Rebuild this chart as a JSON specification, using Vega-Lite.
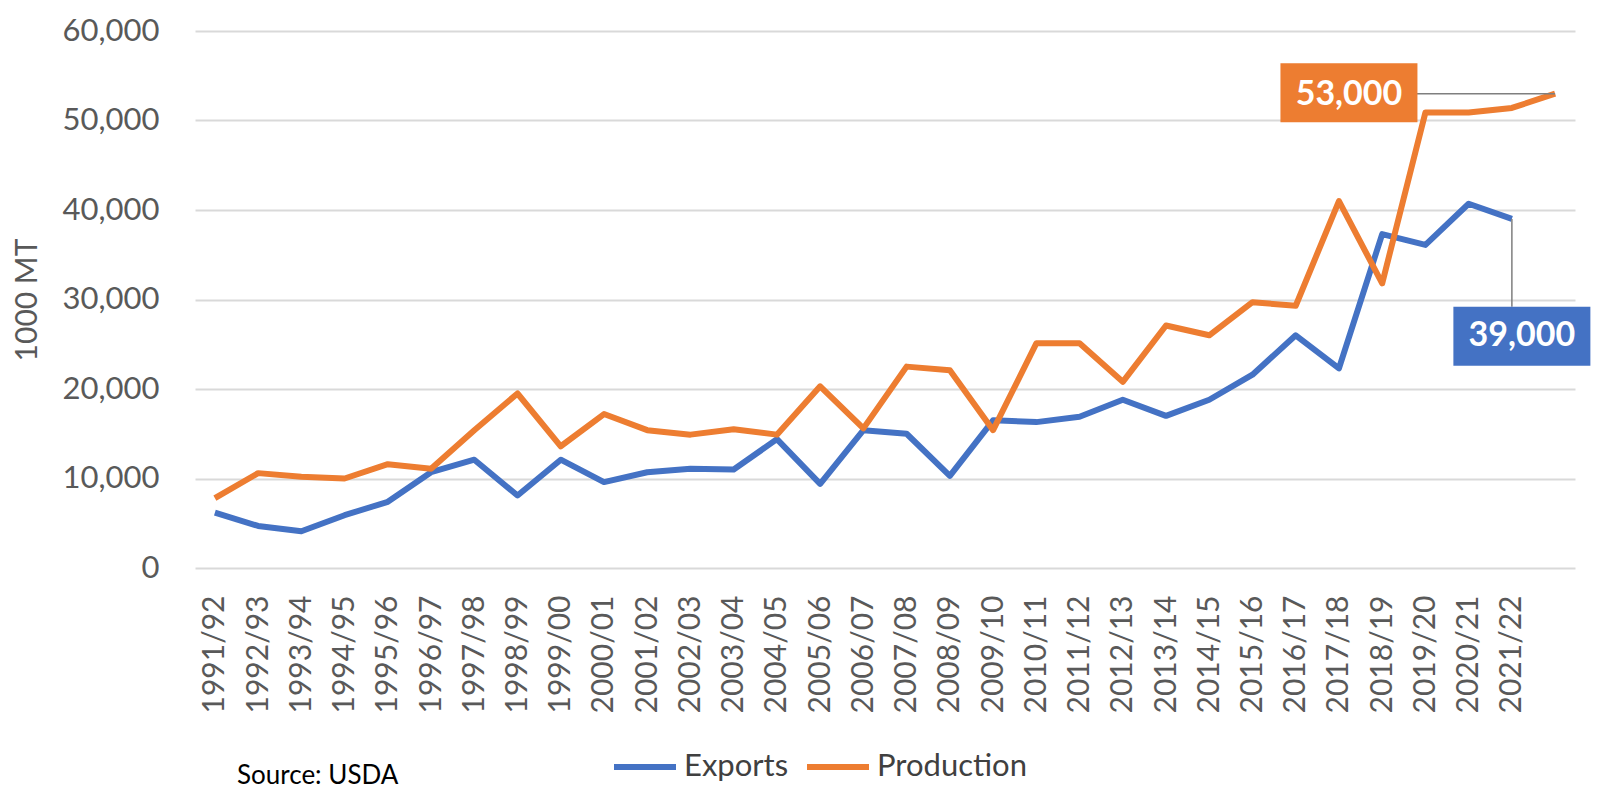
{
  "$schema": "https://vega.github.io/schema/vega-lite/v6.json",
  "width": 1380,
  "height": 537,
  "autosize": {"type": "none"},
  "padding": {"left": 195, "top": 31, "right": 23, "bottom": 225},
  "background": "white",
  "config": {"font": "Lato", "view": {"stroke": null}},
  "title": {"text": "Source: USDA", "orient": "bottom", "anchor": "start", "frame": "group", "dx": 42, "offset": -19, "fontSize": 26, "fontWeight": "normal", "color": "#000000"},
  "datasets": {
    "main": [
      {"season": "1991/92", "series": "Exports", "value": 6200},
      {"season": "1992/93", "series": "Exports", "value": 4700},
      {"season": "1993/94", "series": "Exports", "value": 4100},
      {"season": "1994/95", "series": "Exports", "value": 5900},
      {"season": "1995/96", "series": "Exports", "value": 7400},
      {"season": "1996/97", "series": "Exports", "value": 10700},
      {"season": "1997/98", "series": "Exports", "value": 12100},
      {"season": "1998/99", "series": "Exports", "value": 8100},
      {"season": "1999/00", "series": "Exports", "value": 12100},
      {"season": "2000/01", "series": "Exports", "value": 9600},
      {"season": "2001/02", "series": "Exports", "value": 10700},
      {"season": "2002/03", "series": "Exports", "value": 11100},
      {"season": "2003/04", "series": "Exports", "value": 11000},
      {"season": "2004/05", "series": "Exports", "value": 14400},
      {"season": "2005/06", "series": "Exports", "value": 9400},
      {"season": "2006/07", "series": "Exports", "value": 15400},
      {"season": "2007/08", "series": "Exports", "value": 15000},
      {"season": "2008/09", "series": "Exports", "value": 10300},
      {"season": "2009/10", "series": "Exports", "value": 16500},
      {"season": "2010/11", "series": "Exports", "value": 16300},
      {"season": "2011/12", "series": "Exports", "value": 16900},
      {"season": "2012/13", "series": "Exports", "value": 18800},
      {"season": "2013/14", "series": "Exports", "value": 17000},
      {"season": "2014/15", "series": "Exports", "value": 18800},
      {"season": "2015/16", "series": "Exports", "value": 21600},
      {"season": "2016/17", "series": "Exports", "value": 26000},
      {"season": "2017/18", "series": "Exports", "value": 22300},
      {"season": "2018/19", "series": "Exports", "value": 37300},
      {"season": "2019/20", "series": "Exports", "value": 36100},
      {"season": "2020/21", "series": "Exports", "value": 40700},
      {"season": "2021/22", "series": "Exports", "value": 39000},
      {"season": "1991/92", "series": "Production", "value": 7800},
      {"season": "1992/93", "series": "Production", "value": 10600},
      {"season": "1993/94", "series": "Production", "value": 10200},
      {"season": "1994/95", "series": "Production", "value": 10000},
      {"season": "1995/96", "series": "Production", "value": 11600},
      {"season": "1996/97", "series": "Production", "value": 11100},
      {"season": "1997/98", "series": "Production", "value": 15400},
      {"season": "1998/99", "series": "Production", "value": 19500},
      {"season": "1999/00", "series": "Production", "value": 13600},
      {"season": "2000/01", "series": "Production", "value": 17200},
      {"season": "2001/02", "series": "Production", "value": 15400},
      {"season": "2002/03", "series": "Production", "value": 14900},
      {"season": "2003/04", "series": "Production", "value": 15500},
      {"season": "2004/05", "series": "Production", "value": 14900},
      {"season": "2005/06", "series": "Production", "value": 20300},
      {"season": "2006/07", "series": "Production", "value": 15600},
      {"season": "2007/08", "series": "Production", "value": 22500},
      {"season": "2008/09", "series": "Production", "value": 22100},
      {"season": "2009/10", "series": "Production", "value": 15400},
      {"season": "2010/11", "series": "Production", "value": 25100},
      {"season": "2011/12", "series": "Production", "value": 25100},
      {"season": "2012/13", "series": "Production", "value": 20800},
      {"season": "2013/14", "series": "Production", "value": 27100},
      {"season": "2014/15", "series": "Production", "value": 26000},
      {"season": "2015/16", "series": "Production", "value": 29700},
      {"season": "2016/17", "series": "Production", "value": 29300},
      {"season": "2017/18", "series": "Production", "value": 41000},
      {"season": "2018/19", "series": "Production", "value": 31800},
      {"season": "2019/20", "series": "Production", "value": 50900},
      {"season": "2020/21", "series": "Production", "value": 50900},
      {"season": "2021/22", "series": "Production", "value": 51400},
      {"season": "2022/23", "series": "Production", "value": 53000}
    ],
    "leaders": [
      {"season": "2018/19", "season2": "2022/23", "series": "Production", "from": 53000, "to": 53000},
      {"season": "2021/22", "season2": "2021/22", "series": "Exports", "from": 39000, "to": 29200}
    ],
    "notes": [
      {"season": "2017/18", "series": "Production", "lo": 49800, "hi": 56400, "mid": 52900, "label": "53,000"},
      {"season": "2021/22", "series": "Exports", "lo": 22600, "hi": 29200, "mid": 25900, "label": "39,000"}
    ]
  },
  "layer": [
    {
      "data": {"name": "main"},
      "mark": {"type": "line", "strokeWidth": 6, "strokeJoin": "round"},
      "encoding": {
        "x": {
          "field": "season", "type": "ordinal",
          "scale": {"type": "point", "padding": 0.46, "domain": ["1991/92","1992/93","1993/94","1994/95","1995/96","1996/97","1997/98","1998/99","1999/00","2000/01","2001/02","2002/03","2003/04","2004/05","2005/06","2006/07","2007/08","2008/09","2009/10","2010/11","2011/12","2012/13","2013/14","2014/15","2015/16","2016/17","2017/18","2018/19","2019/20","2020/21","2021/22","2022/23"]},
          "axis": {
            "title": null, "labelAngle": -90, "labelAlign": "right", "labelBaseline": "middle",
            "labelPadding": 27, "ticks": false, "domain": false, "grid": false,
            "labelFontSize": 30, "labelColor": "#595959", "labelOverlap": false,
            "values": ["1991/92","1992/93","1993/94","1994/95","1995/96","1996/97","1997/98","1998/99","1999/00","2000/01","2001/02","2002/03","2003/04","2004/05","2005/06","2006/07","2007/08","2008/09","2009/10","2010/11","2011/12","2012/13","2013/14","2014/15","2015/16","2016/17","2017/18","2018/19","2019/20","2020/21","2021/22"]
          }
        },
        "y": {
          "field": "value", "type": "quantitative",
          "scale": {"domain": [0, 60000], "nice": false},
          "axis": {
            "values": [0, 10000, 20000, 30000, 40000, 50000, 60000], "format": ",d",
            "labelFontSize": 31, "labelColor": "#595959", "labelPadding": 36,
            "ticks": false, "domain": false, "grid": true, "gridColor": "#d9d9d9", "gridWidth": 2,
            "title": "1000 MT", "titleFontSize": 30, "titleFontWeight": "normal", "titleColor": "#595959", "titlePadding": 20
          }
        },
        "color": {
          "field": "series", "type": "nominal",
          "scale": {"domain": ["Exports", "Production"], "range": ["#4472C4", "#ED7D31"]},
          "legend": {
            "orient": "none", "legendX": 416, "legendY": 702, "direction": "horizontal", "title": null,
            "symbolType": "stroke", "symbolStrokeWidth": 6, "symbolSize": 3844,
            "labelFontSize": 31, "labelColor": "#404040", "columnPadding": 6, "labelOffset": 5
          }
        }
      }
    },
    {
      "data": {"name": "leaders"},
      "mark": {"type": "rule", "color": "#7f7f7f", "strokeWidth": 1.5},
      "encoding": {
        "x": {"field": "season", "type": "ordinal"},
        "x2": {"field": "season2"},
        "y": {"field": "from", "type": "quantitative"},
        "y2": {"field": "to"}
      }
    },
    {
      "data": {"name": "notes"},
      "mark": {"type": "bar", "width": 137, "xOffset": 10},
      "encoding": {
        "x": {"field": "season", "type": "ordinal"},
        "y": {"field": "lo", "type": "quantitative"},
        "y2": {"field": "hi"},
        "color": {"field": "series", "type": "nominal", "legend": null}
      }
    },
    {
      "data": {"name": "notes"},
      "mark": {"type": "text", "color": "white", "fontSize": 34, "fontWeight": "bold", "dx": 10, "align": "center", "baseline": "middle"},
      "encoding": {
        "x": {"field": "season", "type": "ordinal"},
        "y": {"field": "mid", "type": "quantitative"},
        "text": {"field": "label"}
      }
    }
  ]
}
